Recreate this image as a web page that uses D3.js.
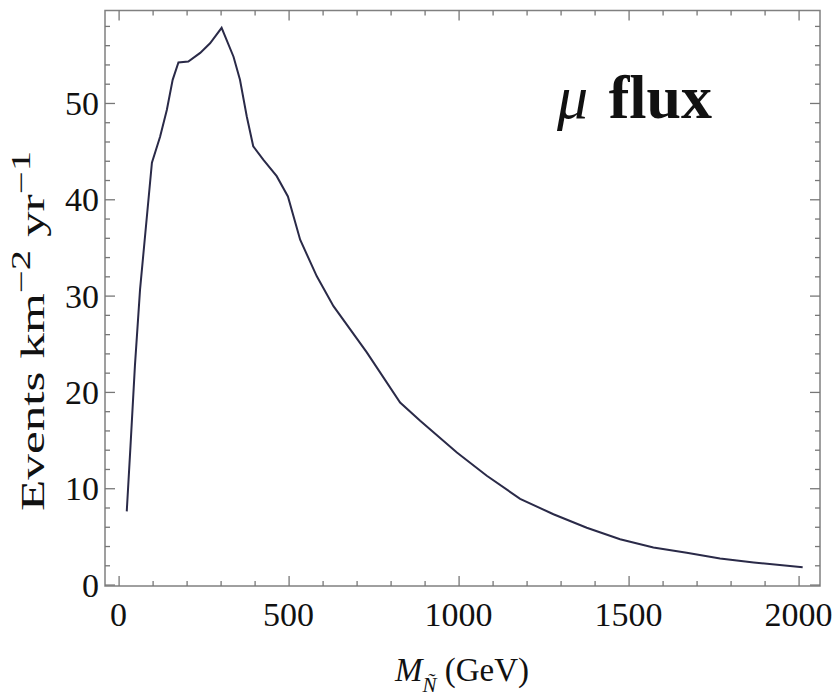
<!DOCTYPE html>
<html>
<head>
<meta charset="utf-8">
<script src="https://cdn.jsdelivr.net/npm/d3@7"></script>
<style>
  body { margin: 0; background: #fff; }
  svg text { font-family: "Liberation Serif", "DejaVu Serif", serif; fill: #111; }
  .axis path, .axis line { stroke: #777; }
</style>
</head>
<body>
<svg id="chart" width="835" height="700"></svg>
<script>
// neutralino mass (GeV) and muon flux (events km^-2 yr^-1)
const massGeV = [24, 35, 48, 63, 98, 122, 142, 159, 176, 205, 240, 269, 303, 338, 357, 377, 396,
  426, 465, 498, 534, 583, 632, 730, 828, 887, 995, 1083, 1181, 1279, 1377, 1475, 1573, 1671,
  1769, 1868, 2012];
const events = [7.6, 14.4, 22.7, 30.6, 43.8, 46.5, 49.3, 52.4, 54.2, 54.3, 55.2, 56.2, 57.8, 54.8,
  52.4, 48.6, 45.5, 44.1, 42.4, 40.3, 35.8, 32.0, 28.9, 24.1, 18.9, 17.0, 13.7, 11.3, 8.9, 7.3,
  5.9, 4.7, 3.85, 3.3, 2.7, 2.3, 1.8];

const xMajor = [0, 500, 1000, 1500, 2000];
const yMajor = [0, 10, 20, 30, 40, 50];
const xMinor = d3.range(0, 2001, 100).filter(v => v % 500 !== 0);
const yMinor = d3.range(0, 59, 2).filter(v => v % 10 !== 0);

const svg = d3.select("#chart");
const plotL = 105, plotR = 820, plotT = 10.5, plotB = 586;

const x = d3.scaleLinear().domain([-40, 2063]).range([plotL, plotR]);
const y = d3.scaleLinear().domain([-0.15, 59.6]).range([plotB, plotT]);

// frame
svg.append("rect")
  .attr("x", plotL).attr("y", plotT)
  .attr("width", plotR - plotL).attr("height", plotB - plotT)
  .attr("fill", "none").attr("stroke", "#808080").attr("stroke-width", 1.5);

// ticks, inward on all four sides
function ticks(axisFn, scale, vals, size, tx, ty) {
  const g = svg.append("g").attr("class", "axis")
    .attr("transform", `translate(${tx},${ty})`)
    .call(axisFn(scale).tickValues(vals).tickSize(size).tickFormat(""));
  g.select(".domain").remove();
  g.selectAll("line").attr("stroke-width", 1.3);
}
ticks(d3.axisBottom, x, xMajor, -10, 0, plotB);
ticks(d3.axisBottom, x, xMinor, -5, 0, plotB);
ticks(d3.axisTop, x, xMajor, -10, 0, plotT);
ticks(d3.axisTop, x, xMinor, -5, 0, plotT);
ticks(d3.axisLeft, y, yMajor, -10, plotL, 0);
ticks(d3.axisLeft, y, yMinor, -5, plotL, 0);
ticks(d3.axisRight, y, yMajor, -10, plotR, 0);
ticks(d3.axisRight, y, yMinor, -5, plotR, 0);

// tick labels
svg.append("g").selectAll("text").data(xMajor).join("text")
  .attr("x", d => x(d)).attr("y", 626)
  .attr("text-anchor", "middle").attr("font-size", 34)
  .text(d => d);
svg.append("g").selectAll("text").data(yMajor).join("text")
  .attr("x", 99).attr("y", d => y(d) + 12)
  .attr("text-anchor", "end").attr("font-size", 34)
  .text(d => d);

// curve
const line = d3.line().x((d, i) => x(massGeV[i])).y(d => y(d));
svg.append("path")
  .attr("d", line(events))
  .attr("fill", "none").attr("stroke", "#2a2a48").attr("stroke-width", 2);

// axis titles
const xl = svg.append("text").attr("x", 462).attr("y", 681)
  .attr("text-anchor", "middle").attr("font-size", 33);
xl.append("tspan").attr("font-style", "italic").text("M");
xl.append("tspan").attr("font-style", "italic").attr("font-size", 21).attr("dy", 11).text("Ñ");
xl.append("tspan").attr("dy", -11).text(" (GeV)");

const yl = svg.append("text")
  .attr("transform", "translate(44,331) rotate(-90)")
  .attr("text-anchor", "middle").attr("font-size", 34)
  .attr("textLength", 360).attr("lengthAdjust", "spacingAndGlyphs");
yl.append("tspan").text("Events km");
yl.append("tspan").attr("font-size", 27).attr("dy", -14).text("−2");
yl.append("tspan").attr("dy", 14).text(" yr");
yl.append("tspan").attr("font-size", 27).attr("dy", -14).text("−1");

// in-plot label
const lab = svg.append("text").attr("x", 557).attr("y", 118).attr("font-size", 62);
lab.append("tspan").attr("font-style", "italic").text("μ");
lab.append("tspan").attr("font-weight", "bold").attr("dx", 5).text(" flux");
</script>
</body>
</html>
